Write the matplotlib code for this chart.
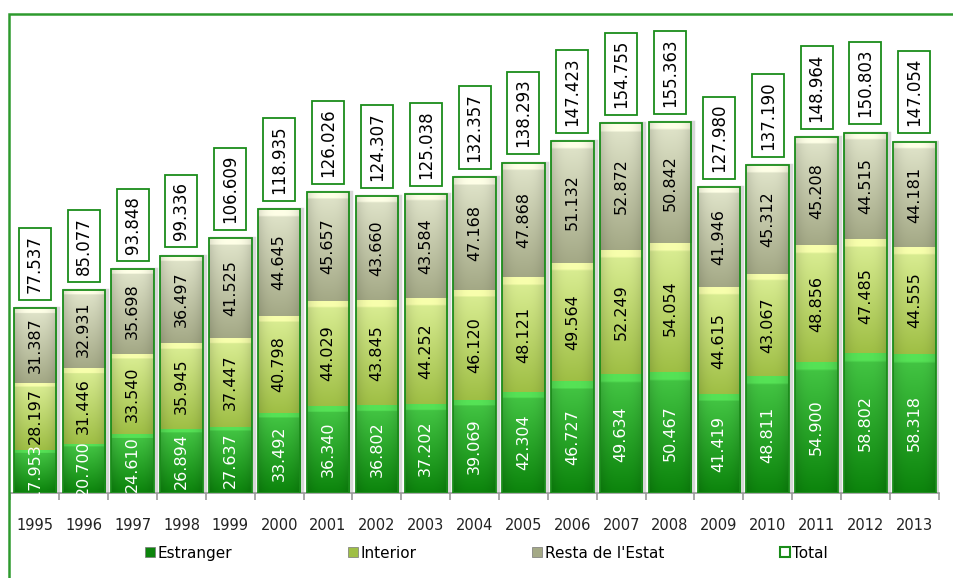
import numpy as np
import matplotlib.pyplot as plt
from matplotlib.patches import Rectangle, Patch
from matplotlib.colors import to_rgb

# ---------------- DATA ----------------
years = [str(y) for y in range(1995, 2014)]
estranger = [17953, 20700, 24610, 26894, 27637, 33492, 36340, 36802, 37202, 39069,
             42304, 46727, 49634, 50467, 41419, 48811, 54900, 58802, 58318]
interior = [28197, 31446, 33540, 35945, 37447, 40798, 44029, 43845, 44252, 46120,
            48121, 49564, 52249, 54054, 44615, 43067, 48856, 47485, 44555]
resta = [31387, 32931, 35698, 36497, 41525, 44645, 45657, 43660, 43584, 47168,
         47868, 51132, 52872, 50842, 41946, 45312, 45208, 44515, 44181]
total = [77537, 85077, 93848, 99336, 106609, 118935, 126026, 124307, 125038, 132357,
         138293, 147423, 154755, 155363, 127980, 137190, 148964, 150803, 147054]

series = [
    ("Estranger", estranger, "#46c846", "#0c840c", "white"),
    ("Interior", interior, "#dcef96", "#9fbf45", "black"),
    ("Resta de l'Estat", resta, "#e2e6cc", "#a4a986", "black"),
]
EDGE = "#1a8c1a"


def fmt(v):
    return f"{v:,}".replace(",", ".")


def gradient(top, bottom, n=60, m=20):
    t = np.asarray(to_rgb(top))
    b = np.asarray(to_rgb(bottom))
    s = np.linspace(0, 1, n)[:, None]
    col = t * (1 - s) + b * s
    # highlight strip at top of segment
    col[:4] = np.minimum(1, t * 1.08 + 0.04)
    img = np.repeat(col[:, None, :], m, axis=1)
    h = np.linspace(-1, 1, m)
    shade = 1 - 0.12 * np.abs(h) ** 3
    img = img * shade[None, :, None]
    return np.clip(img, 0, 1)


fig = plt.figure(figsize=(9.54, 5.78), dpi=100)
ax = fig.add_axes([0.011, 0.147, 0.973, 0.806])

x = np.arange(len(years))
width = 0.87
ymax = 195000

bottoms = np.zeros(len(years))
for name, vals, ctop, cbot, tcol in series:
    img = gradient(ctop, cbot)
    for i, v in enumerate(vals):
        b = bottoms[i]
        ax.imshow(img, extent=(x[i] - width / 2, x[i] + width / 2, b, b + v),
                  aspect="auto", origin="upper", zorder=2, interpolation="bilinear")
        ax.text(x[i], b + v / 2, fmt(v), rotation=90, ha="center", va="center",
                color=tcol, fontsize=11.5, zorder=5)
    bottoms += np.array(vals)

# outline around each stacked bar + total box
for i, t in enumerate(total):
    ax.add_patch(Rectangle((x[i] - width / 2 + 0.04, 0), width, t, fill=False,
                           edgecolor="#b0b0b0", lw=2.5, alpha=0.5, zorder=1))
    ax.add_patch(Rectangle((x[i] - width / 2, 0), width, t, fill=False,
                           edgecolor=EDGE, lw=1.3, zorder=4))
    ax.annotate(fmt(t), xy=(x[i], t), xytext=(0, 11), textcoords="offset points",
                rotation=90, ha="center", va="bottom", fontsize=12, zorder=6,
                bbox=dict(boxstyle="square,pad=0.42", fc="white", ec=EDGE, lw=1.3))

ax.set_xlim(-0.5, len(years) - 0.5)
ax.set_ylim(0, ymax)
ax.set_xticks(x)
ax.set_xticklabels(years, fontsize=10.5, color="#222222")
ax.set_xticks(np.arange(-0.5, len(years)), minor=True)
ax.tick_params(axis="x", which="major", length=0, pad=18)
ax.tick_params(axis="x", which="minor", length=5, color="#999999", width=1.2)
ax.set_yticks([])
for s in ["top", "right", "left"]:
    ax.spines[s].set_visible(False)
ax.spines["bottom"].set_color("#999999")
ax.spines["bottom"].set_linewidth(1.2)

# legend
handles = [Patch(facecolor=c[3], edgecolor="#777777", lw=0.5) for c in series]
handles.append(Patch(facecolor="white", edgecolor=EDGE, lw=1.5))
labels = [c[0] for c in series] + ["Total"]
fig.legend(handles, labels, loc="center", bbox_to_anchor=(0.51, 0.043), ncol=4,
           frameon=False, fontsize=11, handlelength=0.65, handleheight=0.65,
           handletextpad=0.15, columnspacing=7.6)

# green frame around chart
fig.patches.append(Rectangle((9.5 / 954, -0.02), 1.05, 1 - 14 / 578 + 0.02,
                             transform=fig.transFigure, fill=False,
                             edgecolor="#2e9a2e", lw=1.8))

plt.savefig("out.png", dpi=100)
